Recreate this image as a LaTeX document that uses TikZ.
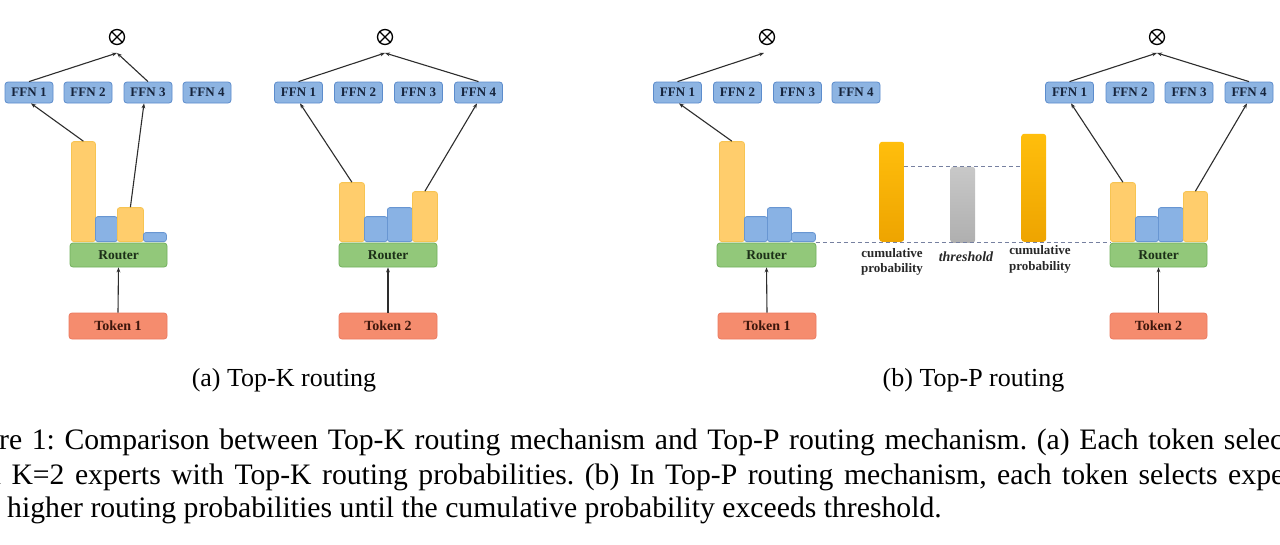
\documentclass[tikz,border=0pt]{standalone}
\usepackage{fontspec}
\setmainfont{Liberation Serif}
\usetikzlibrary{arrows.meta,calc}
\definecolor{ffnF}{RGB}{141,180,226}
\definecolor{ffnB}{RGB}{92,140,204}
\definecolor{ffnT}{RGB}{22,36,60}
\definecolor{ybF}{RGB}{255,205,108}
\definecolor{ybB}{RGB}{247,196,82}
\definecolor{bbF}{RGB}{137,178,228}
\definecolor{bbB}{RGB}{104,150,210}
\definecolor{rtF}{RGB}{146,200,122}
\definecolor{rtB}{RGB}{112,176,92}
\definecolor{rtT}{RGB}{28,48,24}
\definecolor{tkF}{RGB}{245,140,110}
\definecolor{tkB}{RGB}{236,122,96}
\definecolor{tkT}{RGB}{60,22,12}
\definecolor{orT}{RGB}{255,190,12}
\definecolor{orB}{RGB}{238,164,0}
\definecolor{grT}{RGB}{200,200,200}
\definecolor{grB}{RGB}{175,175,175}
\definecolor{arrC}{RGB}{45,45,45}
\definecolor{dashC}{RGB}{118,128,160}
\definecolor{lblC}{RGB}{40,40,40}
\begin{document}
\begin{tikzpicture}[x=1pt,y=-1pt,
  ffn/.style={draw=ffnB, fill=ffnF, rounded corners=3pt, minimum width=48pt, minimum height=21pt, inner sep=0pt, line width=0.8pt, text=ffnT, font=\fontsize{13}{14}\selectfont\bfseries},
  router/.style={draw=rtB, fill=rtF, rounded corners=3pt, minimum height=24pt, inner sep=0pt, line width=0.8pt, text=rtT, font=\fontsize{13.5}{15}\selectfont\bfseries},
  token/.style={draw=tkB, fill=tkF, rounded corners=3pt, minimum height=26pt, inner sep=0pt, line width=0.8pt, text=tkT, font=\fontsize{14}{15}\selectfont\bfseries},
  ybar/.style={draw=ybB, fill=ybF, rounded corners=2.5pt, anchor=south west, inner sep=0pt, line width=0.8pt},
  bbar/.style={draw=bbB, fill=bbF, rounded corners=2.5pt, anchor=south west, inner sep=0pt, line width=0.8pt},
  obar/.style={top color=orT, bottom color=orB, draw=none, rounded corners=3pt, anchor=south west, inner sep=0pt, minimum width=25pt},
  gbar/.style={top color=grT, bottom color=grB, draw=none, rounded corners=3pt, anchor=south west, inner sep=0pt, minimum width=25pt},
  otim/.style={circle, draw=black, line width=1.3pt, minimum size=15pt, inner sep=0pt},
  arr/.style={-{Stealth[length=5pt,width=3.8pt]}, line width=1.1pt, draw=arrC},
  dashline/.style={dash pattern=on 4pt off 3pt, draw=dashC, line width=1pt},
  lbl/.style={align=center, inner sep=0pt, text=lblC, font=\fontsize{13}{15.5}\selectfont\bfseries},
  subcap/.style={anchor=base, inner sep=0pt, font=\fontsize{26}{30}\selectfont},
  capline/.style={anchor=base west, inner sep=0pt, font=\fontsize{29.7}{34}\selectfont}
]
\useasboundingbox (0,0) rectangle (1280,544);
\fill[white] (0,0) rectangle (1280,544);

% ---------------- Panel 1 ----------------
\node[otim] (x1) at (117,37) {};
\draw[line width=1.3pt] (x1.north west) -- (x1.south east) (x1.north east) -- (x1.south west);
\coordinate (t1) at (117,53);
\node[ffn] (p1f1) at (29,92.5) {FFN 1};
\node[ffn] (p1f2) at (88,92.5) {FFN 2};
\node[ffn] (p1f3) at (148,92.5) {FFN 3};
\node[ffn] (p1f4) at (207,92.5) {FFN 4};
\node[ybar, minimum width=24pt, minimum height=100pt] (p1b1) at (71,242) {};
\node[bbar, minimum width=22pt, minimum height=25pt] (p1b2) at (95,242) {};
\node[ybar, minimum width=26pt, minimum height=34pt] (p1b3) at (117,242) {};
\node[bbar, minimum width=23pt, minimum height=9pt] (p1b4) at (143,242) {};
\node[router, minimum width=97pt] (p1r) at (118.5,255) {Router};
\node[token, minimum width=98pt] (p1t) at (118,326) {Token 1};
\draw[arr] (p1t.north) -- (p1r.south);
\draw[arr] (p1b1.north) -- ($(p1f1.south)+(2,0)$);
\draw[arr] (p1b3.north) -- ($(p1f3.south)+(-4,0)$);
\draw[arr] (p1f1.north) -- (t1);
\draw[arr] (p1f3.north) -- (t1);

% ---------------- Panel 2 ----------------
\node[otim] (x2) at (385,37) {};
\draw[line width=1.3pt] (x2.north west) -- (x2.south east) (x2.north east) -- (x2.south west);
\coordinate (t2) at (385,53);
\node[ffn] (p2f1) at (298.5,92.5) {FFN 1};
\node[ffn] (p2f2) at (358.5,92.5) {FFN 2};
\node[ffn] (p2f3) at (418.5,92.5) {FFN 3};
\node[ffn] (p2f4) at (478.5,92.5) {FFN 4};
\node[ybar, minimum width=25pt, minimum height=59pt] (p2b1) at (339,242) {};
\node[bbar, minimum width=23pt, minimum height=25pt] (p2b2) at (364,242) {};
\node[bbar, minimum width=25pt, minimum height=34pt] (p2b3) at (387,242) {};
\node[ybar, minimum width=25pt, minimum height=50pt] (p2b4) at (412,242) {};
\node[router, minimum width=98pt] (p2r) at (388,255) {Router};
\node[token, minimum width=98pt] (p2t) at (388,326) {Token 2};
\draw[arr] (p2t.north) -- (p2r.south);
\draw[arr] (p2b1.north) -- ($(p2f1.south)+(1.5,0)$);
\draw[arr] (p2b4.north) -- ($(p2f4.south)+(-1.5,0)$);
\draw[arr] (p2f1.north) -- (t2);
\draw[arr] (p2f4.north) -- (t2);

% ---------------- Panel 3 ----------------
\node[otim] (x3) at (767,37) {};
\draw[line width=1.3pt] (x3.north west) -- (x3.south east) (x3.north east) -- (x3.south west);
\coordinate (t3) at (764,53);
\node[ffn] (p3f1) at (677.5,92.5) {FFN 1};
\node[ffn] (p3f2) at (737.5,92.5) {FFN 2};
\node[ffn] (p3f3) at (797.5,92.5) {FFN 3};
\node[ffn] (p3f4) at (856,92.5) {FFN 4};
\node[ybar, minimum width=25pt, minimum height=100pt] (p3b1) at (719,242) {};
\node[bbar, minimum width=23pt, minimum height=25pt] (p3b2) at (744,242) {};
\node[bbar, minimum width=24pt, minimum height=34pt] (p3b3) at (767,242) {};
\node[bbar, minimum width=24pt, minimum height=9pt] (p3b4) at (791,242) {};
\node[router, minimum width=99pt] (p3r) at (766.5,255) {Router};
\node[token, minimum width=98pt] (p3t) at (767,326) {Token 1};
\draw[arr] (p3t.north) -- (p3r.south);
\draw[arr] (p3b1.north) -- ($(p3f1.south)+(1.5,0)$);
\draw[arr] (p3f1.north) -- (t3);

% ---------------- Middle ----------------
\node[obar, minimum height=100pt] (ca) at (879,242) {};
\node[gbar, minimum height=76pt] (gt) at (950,243) {};
\node[obar, minimum height=108pt] (cb) at (1021,242) {};
\draw[dashline] (ca.east |- gt.north) -- (cb.west |- gt.north);

\node[lbl] (l1) at (892,262) {cumulative\\probability};
\node[lbl, font=\fontsize{14}{15}\selectfont\bfseries\itshape] (l2) at (966,257) {threshold};
\node[lbl] (l3) at (1040,259.5) {cumulative\\probability};

% ---------------- Panel 4 ----------------
\node[otim] (x4) at (1157,37) {};
\draw[line width=1.3pt] (x4.north west) -- (x4.south east) (x4.north east) -- (x4.south west);
\coordinate (t4) at (1157,53);
\node[ffn] (p4f1) at (1069.5,92.5) {FFN 1};
\node[ffn] (p4f2) at (1130,92.5) {FFN 2};
\node[ffn] (p4f3) at (1189,92.5) {FFN 3};
\node[ffn] (p4f4) at (1249,92.5) {FFN 4};
\node[ybar, minimum width=25pt, minimum height=59pt] (p4b1) at (1110,242) {};
\node[bbar, minimum width=23pt, minimum height=25pt] (p4b2) at (1135,242) {};
\node[bbar, minimum width=25pt, minimum height=34pt] (p4b3) at (1158,242) {};
\node[ybar, minimum width=24pt, minimum height=50pt] (p4b4) at (1183,242) {};
\node[router, minimum width=97pt] (p4r) at (1158.5,255) {Router};
\node[token, minimum width=97pt] (p4t) at (1158.5,326) {Token 2};
\draw[arr] (p4t.north) -- (p4r.south);
\draw[arr] (p4b1.north) -- ($(p4f1.south)+(1.5,0)$);
\draw[arr] (p4b4.north) -- ($(p4f4.south)+(-2,0)$);
\draw[arr] (p4f1.north) -- (t4);
\draw[arr] (p4f4.north) -- (t4);

\draw[dashline] (p3b4.south east) -- (p4b1.south west);

% ---------------- Captions ----------------
\node[subcap] (sa) at (284,386) {(a) Top-K routing};
\node[subcap] (sb) at (973.5,386) {(b) Top-P routing};
\node[capline] (c1) at (-1,449) {\frenchspacing\makebox[1284pt][s]{re 1: Comparison between Top-K routing mechanism and Top-P routing mechanism. (a) Each token selec}};
\node[capline] (c2) at (-14,484) {\frenchspacing\makebox[1298pt][s]{d K=2 experts with Top-K routing probabilities. (b) In Top-P routing mechanism, each token selects expe}};
\node[capline] (c3) at (7,517) {higher routing probabilities until the cumulative probability exceeds threshold.};
\end{tikzpicture}
\end{document}
